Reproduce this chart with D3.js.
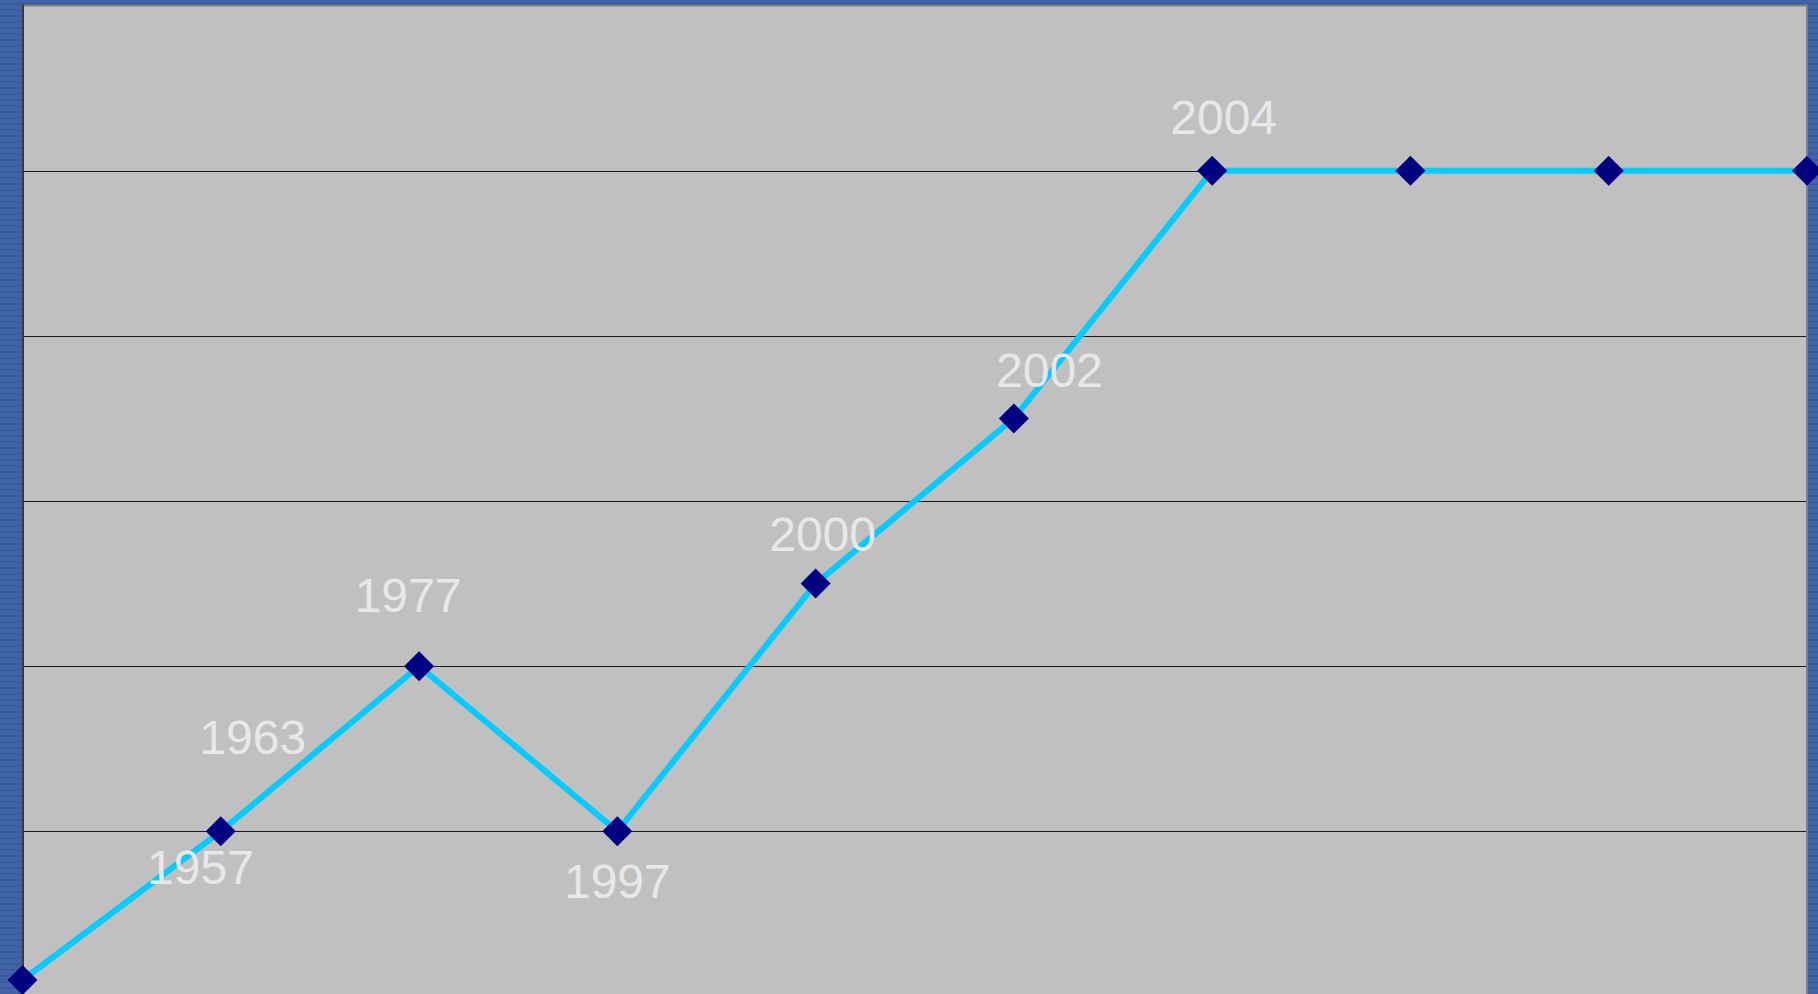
<!DOCTYPE html>
<html>
<head>
<meta charset="utf-8">
<script src="https://cdn.jsdelivr.net/npm/d3@7"></script>
<style>
  html, body { margin: 0; padding: 0; overflow: hidden; background: #3d5fa6; }
  svg { display: block; }
</style>
</head>
<body>
<svg id="chart" width="1818" height="994"></svg>
<script>
// ---- data ----
const categories = [0, 1, 2, 3, 4, 5, 6, 7, 8, 9];
const values = [0.1, 1, 2, 1, 2.5, 3.5, 5, 5, 5, 5];
const yearLabels = ["1957", "1963", "1977", "1997", "2000", "2002", "2004", null, null, null];
const yTicks = [1, 2, 3, 4, 5];

// ---- layout ----
const W = 1818, H = 994;
const plot = { left: 23, top: 5.5, right: 1807, bottom: 996.5 };
const labelOffsets = [
  [178, -96], [32, -77], [-11, -54], [0, 67], [7, -33], [35.5, -31], [11.5, -37]
];

const svg = d3.select("#chart");
const defs = svg.append("defs");
const pat = defs.append("pattern").attr("id", "stripes")
  .attr("patternUnits", "userSpaceOnUse").attr("width", 8).attr("height", 6);
pat.append("rect").attr("width", 8).attr("height", 6).attr("fill", "#4063a9");
pat.append("rect").attr("y", 3).attr("width", 8).attr("height", 2).attr("fill", "#3a5a9e");

svg.append("rect").attr("width", W).attr("height", H).attr("fill", "url(#stripes)");

const x = d3.scalePoint().domain(categories).range([22.5, 1807]);
const y = d3.scaleLinear().domain([0, 6]).range([plot.bottom, plot.top]);

// plot background
svg.append("rect")
  .attr("x", plot.left).attr("y", plot.top)
  .attr("width", plot.right - plot.left).attr("height", plot.bottom - plot.top)
  .attr("fill", "#c0c0c0");

// gridlines
const grid = svg.append("g")
  .attr("transform", `translate(${plot.left},0)`)
  .call(d3.axisLeft(y).tickValues(yTicks).tickSize(-(plot.right - plot.left)).tickFormat(""));
grid.select(".domain").remove();
grid.selectAll(".tick line").attr("stroke", "#1a1a1a").attr("stroke-width", 1)
  .attr("shape-rendering", "crispEdges");

// borders
svg.append("line").attr("x1", plot.left).attr("x2", plot.right + 1)
  .attr("y1", plot.top).attr("y2", plot.top)
  .attr("stroke", "#808080").attr("stroke-width", 2);
svg.append("line").attr("x1", plot.right).attr("x2", plot.right)
  .attr("y1", plot.top).attr("y2", H)
  .attr("stroke", "#808080").attr("stroke-width", 2);
svg.append("line").attr("x1", 23).attr("x2", 23)
  .attr("y1", plot.top - 1).attr("y2", H)
  .attr("stroke", "#3a3a3a").attr("stroke-width", 2);

// line
const line = d3.line().x((d, i) => x(categories[i])).y(d => y(d));
svg.append("path").datum(values)
  .attr("d", line)
  .attr("fill", "none")
  .attr("stroke", "#00ccff")
  .attr("stroke-width", 6)
  .attr("stroke-linejoin", "miter");

// markers
const sym = d3.symbol().type(d3.symbolSquare).size(450);
svg.selectAll(".marker").data(values).enter().append("path")
  .attr("class", "marker")
  .attr("d", sym)
  .attr("transform", (d, i) => `translate(${x(categories[i])},${y(d)}) rotate(45)`)
  .attr("fill", "#000080");

// labels
svg.selectAll(".lbl").data(values.map((v, i) => ({ v, i, t: yearLabels[i] })).filter(d => d.t))
  .enter().append("text")
  .attr("class", "lbl")
  .attr("x", d => x(categories[d.i]) + labelOffsets[d.i][0])
  .attr("y", d => y(d.v) + labelOffsets[d.i][1])
  .attr("text-anchor", "middle")
  .attr("font-family", "Liberation Sans, Arial, sans-serif")
  .attr("font-size", 48)
  .attr("fill", "#e8e8e8")
  .text(d => d.t);
</script>
</body>
</html>
